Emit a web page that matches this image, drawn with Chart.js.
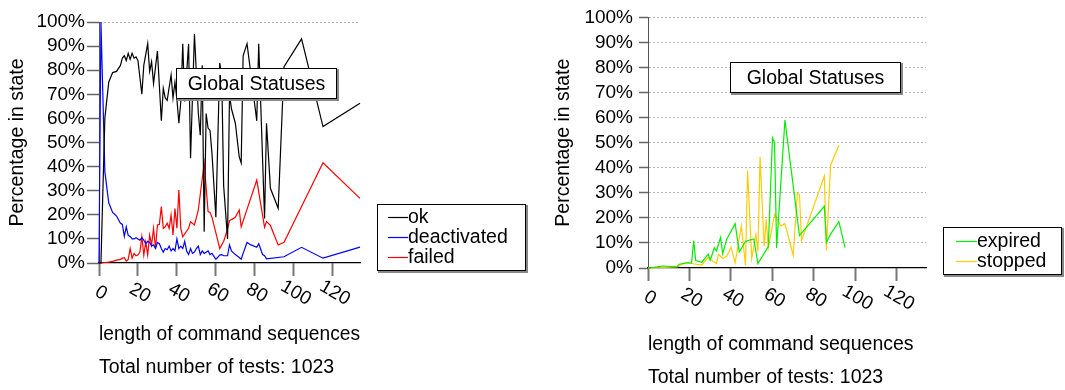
<!DOCTYPE html>
<html>
<head>
<meta charset="utf-8">
<script src="https://cdn.jsdelivr.net/npm/chart.js@4.4.1/dist/chart.umd.min.js"></script>
<style>
  html, body { margin: 0; padding: 0; background: #fff; overflow: hidden; }
  .panel { position: absolute; top: 0; }
  #left { left: 0; }
  #right { left: 546px; }
</style>
</head>
<body>
<div class="panel" id="left"><canvas id="statusChart" width="540" height="390"></canvas></div>
<div class="panel" id="right"><canvas id="stopChart" width="519" height="400"></canvas></div>
<script>
// test lengths (x) shared by every series, null = no point drawn there
const lengths = [0, 1, 3, 5, 7, 9,
  11, 12, 13, 14, 15, 16, 17, 18, 19, 20,
  21, 22, 23, 24, 25, 26, 27, 28, 29, 30,
  31, 32, 33, 34, 35, 36, 37, 38, 39, 40,
  41, 42, 43, 44, 45, 46, 47, 48, 49, 50,
  51, 52, 53, 54, 55, 56, 57, 58,
  60, 61, 62, 63, 64,
  66, 67, 68, 70, 72,
  73, 74, 76, 78, 81,
  82, 84, 85, 86, 88,
  92, 95, 104, 115, 134];

const okValues = [0, 0, 60, 75, 79, 79.5,
  82, 85, 86, 84, 87, 84.5, 87, 85, 85.5, 84,
  null, 70, 82, null, 91, 79.5, 83.5, 74.5, null, 88,
  null, 59, 72.5, 68.5, 67.5, null, 78, 68.5, 75, 68,
  58, 67, 91, 67, null, 91, 43.5, null, 95, null,
  62, 53, 82, 13, 62, 56, 55, 45.5,
  19, null, 83, 78, 32,
  10, 70, 64, 58, 44,
  41.5, 86, 91, null, 59,
  91, null, 18.5, 58, 31,
  22.7, 81.5, 93, 56.6, 66.3];

const deactivatedValues = [0, 100, 38, 25, 21, 19.5,
  16.5, 16, 11, 15, 11.5, 11, 10, 10, 10.5, 10,
  9.5, 10.5, 9.5, 8, 9, 8.5, 7, 7.5, 6, 8.5,
  8, 6, 4.5, 6, 5.5, 7, 5, 6, 5, 10,
  6, 7, 6, 9, 5, 3.5, 6, 4, 4.5, 6,
  7, 3.5, 5, 4, 4.5, 5, 3.5, 4,
  1.5, null, 3.3, 3.5, 3,
  3, 7.5, 5, 3.5, 2.3,
  1.6, 4, 8.5, 7.5, 6.5,
  8, 3.5, 3, 1.7, null,
  null, 2.6, 6.5, 2, 6.6];

const failedValues = [0, 0, 0.2, 0.4, 0.7, 1.2,
  1.5, 2, 2.2, 0.8, 1.5, 6, 2, 4, 3, 3.3,
  4.5, 10.9, 3.3, 8.8, 3.3, 11.6, 7.5, 14.4, 6, 15.8,
  16, 23.4, 14.4, 15, 16.5, 14.4, 19.9, 11.6, 22.6, 14.4,
  30.3, 14.4, 10.9, null, null, 14.4, 17.1, null, 15.8, null,
  22, null, null, 41.4, null, 21.3, 21, 19,
  null, null, 6, null, 9,
  14, 17.6, 18, 19, 22,
  15, null, null, null, 34.4,
  null, null, 14.8, 17.2, 15.6,
  7.5, 8.6, null, 41.6, 26.8];

const expiredValues = [0, 0, null, null, 0.8, null,
  null, null, null, 0.5, 1.5, null, null, null, 2.1, null,
  2, 10.9, 3, null, null, 2.3, null, null, 5.5, 3.1,
  null, 8.1, 6.8, null, 12.2, 5.7, null, 11.6, null, null,
  null, 17.7, null, 6.4, null, null, 10.7, null, null, null,
  11.6, null, 1.8, null, null, null, null, 8.6,
  52, 50, 8, null, null,
  59, null, null, null, null,
  12.9, null, null, null, null,
  null, null, 24.6, 10.3, 13.5,
  18.5, 8.1, null, null, null];

const stoppedValues = [0, 0, null, null, null, null,
  null, null, null, 0.4, null, null, null, 2.1, null, null,
  1.8, null, null, null, null, 1.2, null, null, 4.3, 3.5,
  null, null, 1.8, 5.5, null, 3.8, null, 4.8, null, 8.3,
  null, 2.1, null, null, 16.8, null, 1.2, 38.9, null, 3.8,
  null, 13.3, 6.6, 44.4, null, 8.6, 19.4, 8.1,
  null, 21.4, null, null, 16.8,
  17.7, null, null, 5.1, 29.8,
  29.3, 10.9, null, null, null,
  null, null, 36.7, 7, 40.9,
  49, null, null, null, null];

const xTickValues = [0, 20, 40, 60, 80, 100, 120];
const yTickValues = [0, 10, 20, 30, 40, 50, 60, 70, 80, 90, 100];
const chartTitle = "Global Statuses";
const xTitle = ["length of command sequences", "Total number of tests: 1023"];
const yTitle = "Percentage in state";

const FONT = '"Liberation Sans", Arial, sans-serif';
Chart.defaults.font.family = FONT;
Chart.defaults.color = "#000";

function points(values) {
  return lengths.map((x, i) => ({ x: x, y: values[i] })).filter(p => p.y !== null);
}

function line(label, values, color) {
  return {
    label: label,
    data: points(values),
    borderColor: color,
    backgroundColor: color,
    borderWidth: 1.2,
    pointRadius: 0,
    tension: 0,
    fill: false,
    clip: 3
  };
}

// x tick labels slanted downward (clockwise), as in the original plot
const slantedTicks = {
  id: "slantedTicks",
  afterDraw(chart) {
    const scale = chart.scales.x;
    const ctx = chart.ctx;
    ctx.save();
    ctx.font = "19px " + FONT;
    ctx.fillStyle = "#000";
    ctx.textAlign = "center";
    ctx.textBaseline = "middle";
    xTickValues.forEach(v => {
      ctx.save();
      ctx.translate(scale.getPixelForValue(v) + 2, scale.top + 30);
      ctx.rotate(Math.PI / 6);
      ctx.fillText(String(v), 0, 0);
      ctx.restore();
    });
    ctx.restore();
  }
};

function framedBox(ctx, x, y, w, h) {
  ctx.fillStyle = "#888";
  ctx.fillRect(x + 1, y + 1, w + 1, h + 1);
  ctx.fillStyle = "#fff";
  ctx.fillRect(x, y, w, h);
  ctx.strokeStyle = "#000";
  ctx.lineWidth = 1;
  ctx.strokeRect(x + 0.5, y + 0.5, w - 1, h - 1);
}

const boxTitle = {
  id: "boxTitle",
  afterDraw(chart, args, opts) {
    const ctx = chart.ctx;
    ctx.save();
    framedBox(ctx, opts.x, opts.y, opts.w, opts.h);
    ctx.font = "19.5px " + FONT;
    ctx.fillStyle = "#000";
    ctx.textAlign = "center";
    ctx.textBaseline = "middle";
    ctx.fillText(opts.text, opts.x + opts.w / 2, opts.y + opts.h / 2 + 1);
    ctx.restore();
  }
};

const sideLegend = {
  id: "sideLegend",
  afterDraw(chart, args, opts) {
    const ctx = chart.ctx;
    ctx.save();
    framedBox(ctx, opts.x, opts.y, opts.w, opts.h);
    ctx.font = "19.5px " + FONT;
    ctx.textAlign = "left";
    ctx.textBaseline = "middle";
    chart.data.datasets.forEach((ds, i) => {
      const yy = opts.y + opts.rowTop + i * opts.rowGap;
      const x0 = opts.x + opts.lineX;
      ctx.strokeStyle = ds.borderColor;
      ctx.lineWidth = 1.2;
      ctx.beginPath();
      ctx.moveTo(x0, yy + 0.5);
      ctx.lineTo(x0 + opts.lineW, yy + 0.5);
      ctx.stroke();
      ctx.fillStyle = "#000";
      ctx.fillText(ds.label, x0 + opts.lineW, yy + 1);
    });
    ctx.restore();
  }
};

function makeOptions(cfg) {
  return {
    responsive: false,
    animation: false,
    layout: { padding: cfg.padding },
    scales: {
      x: {
        type: "linear",
        min: 0,
        max: 134,
        afterBuildTicks: s => { s.ticks = xTickValues.map(v => ({ value: v })); },
        afterFit: s => { s.height = cfg.xHeight; },
        ticks: { display: false, autoSkip: false },
        grid: { drawOnChartArea: false, tickLength: 13, tickColor: "#777", tickWidth: 2 },
        border: { color: "#000", width: 1.2 },
        title: {
          display: true,
          text: xTitle,
          align: "start",
          font: { size: 19.5, lineHeight: 1.66 },
          padding: { top: 0, bottom: 6.4 }
        }
      },
      y: {
        min: 0,
        max: 100,
        afterBuildTicks: s => { s.ticks = yTickValues.map(v => ({ value: v })); },
        afterFit: s => { s.width = cfg.yWidth; },
        ticks: { callback: v => v + "%", font: { size: 19 }, padding: cfg.tickPad, autoSkip: false },
        grid: {
          color: c => (c.tick && cfg.gridAt(c.tick.value)) ? "#b4b4b4" : "rgba(0,0,0,0)",
          tickColor: "#666",
          tickWidth: 1.5,
          tickLength: cfg.tickLen
        },
        border: { color: "#555", width: 1, dash: [2, 2] },
        title: {
          display: true,
          text: yTitle,
          font: { size: 19.5 },
          padding: { top: 6, bottom: 0 }
        }
      }
    },
    plugins: {
      legend: { display: false },
      tooltip: { enabled: false },
      boxTitle: cfg.titleBox,
      sideLegend: cfg.legendBox
    }
  };
}

new Chart(document.getElementById("statusChart"), {
  type: "line",
  data: {
    datasets: [
      line("ok", okValues, "#000000"),
      line("deactivated", deactivatedValues, "#0000ff"),
      line("failed", failedValues, "#ff0000")
    ]
  },
  options: makeOptions({
    padding: { top: 22, right: 180, left: 0, bottom: 0 },
    xHeight: 127,
    yWidth: 99,
    tickPad: 2,
    tickLen: 12,
    gridAt: v => v === 100,
    titleBox: { text: chartTitle, x: 176, y: 68, w: 161, h: 31 },
    legendBox: { x: 377, y: 204, w: 149, h: 67, rowTop: 13, rowGap: 20, lineX: 11, lineW: 20 }
  }),
  plugins: [slantedTicks, boxTitle, sideLegend]
});

new Chart(document.getElementById("stopChart"), {
  type: "line",
  data: {
    datasets: [
      line("expired", expiredValues, "#00ee00"),
      line("stopped", stoppedValues, "#ffcc00")
    ]
  },
  options: makeOptions({
    padding: { top: 12, right: 139, left: 0, bottom: 0 },
    xHeight: 132,
    yWidth: 102,
    tickPad: 6,
    tickLen: 9,
    gridAt: v => v > 0,
    titleBox: { text: chartTitle, x: 184, y: 62, w: 171, h: 31 },
    legendBox: { x: 397, y: 227, w: 119, h: 48, rowTop: 14, rowGap: 20, lineX: 13, lineW: 21 }
  }),
  plugins: [slantedTicks, boxTitle, sideLegend]
});
</script>
</body>
</html>
